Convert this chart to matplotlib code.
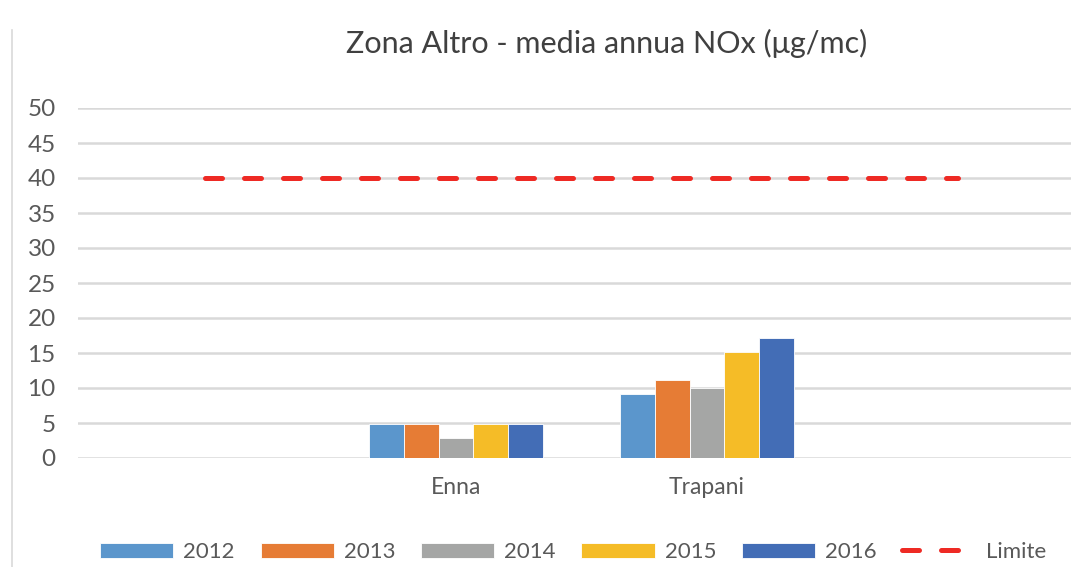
import matplotlib
matplotlib.use("Agg")
import matplotlib.pyplot as plt
from matplotlib.lines import Line2D
import numpy as np

plt.rcParams['font.family'] = ['Lato', 'DejaVu Sans']

categories = ["", "Enna", "Trapani", ""]
years = ["2012", "2013", "2014", "2015", "2016"]
values = {
    "2012": [np.nan, 4.9, 9.1, np.nan],
    "2013": [np.nan, 4.9, 11.1, np.nan],
    "2014": [np.nan, 2.9, 10.0, np.nan],
    "2015": [np.nan, 4.9, 15.1, np.nan],
    "2016": [np.nan, 4.9, 17.1, np.nan],
}
limite = [40, 40, 40, 40]
colors = ["#5b96cc", "#e67c35", "#a5a6a5", "#f5bc27", "#436db6"]

W, H = 1071, 567
fig = plt.figure(figsize=(W / 100, H / 100), dpi=100)
ax = fig.add_axes([78 / W, (H - 458) / H, (W - 78) / W, 350 / H])

x = np.arange(len(categories))
bw = 0.139
for i, y in enumerate(years):
    ax.bar(x + (i - 2) * bw, values[y], width=bw, color=colors[i], label=y,
           zorder=3, edgecolor='white', linewidth=0.6)

ax.plot(x, limite, color="#ee2a24", linewidth=3.6, dashes=(3.4, 4.4),
        dash_capstyle='round', zorder=4, label="Limite")

ax.set_xlim(-0.506, 3.45)
ax.set_ylim(0, 50)
ax.set_yticks(range(0, 51, 5))
ax.set_xticks(x)
ax.set_xticklabels(categories)
ax.yaxis.grid(True, color="#d9d9d9", linewidth=1.8, zorder=0)
ax.set_axisbelow(True)
for s in ax.spines.values():
    s.set_visible(False)
ax.tick_params(axis='both', length=0, labelcolor="#595959")
ax.tick_params(axis='y', pad=16, labelsize=17.5)
ax.tick_params(axis='x', pad=14, labelsize=16.5)

fig.text(0.566, 0.924, "Zona Altro - media annua NOx (μg/mc)", ha='center', va='center',
         fontsize=22, color="#404040")

# left border line
fig.add_artist(Line2D([12 / W, 12 / W], [0, 1 - 30 / H], color="#d9d9d9", linewidth=1.2))

handles, labels = ax.get_legend_handles_labels()
order = [1, 2, 3, 4, 5, 0]
handles = [handles[i] for i in order]
labels = [labels[i] for i in order]
leg = fig.legend(handles, labels, loc='center', bbox_to_anchor=(0.535, 1 - 552 / H), ncol=6,
                 frameon=False, fontsize=16, handlelength=3.3, handleheight=0.65,
                 handletextpad=0.45, columnspacing=1.15, labelcolor="#595959")

fig.savefig("out.png", dpi=100, facecolor="white")
